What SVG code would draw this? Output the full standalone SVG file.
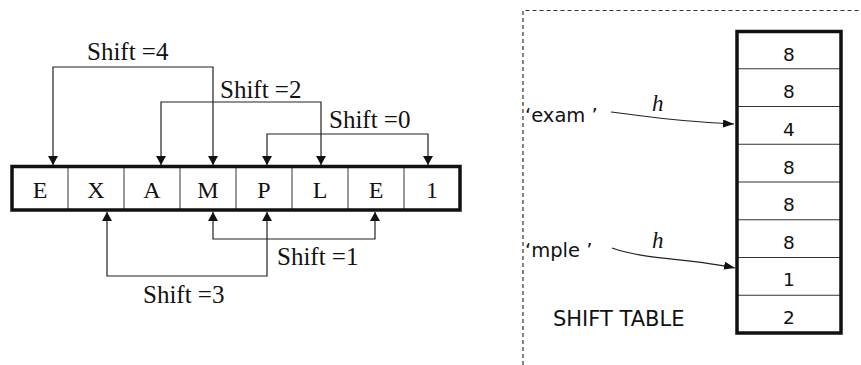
<svg xmlns="http://www.w3.org/2000/svg" width="861" height="365" viewBox="0 0 861 365">
  <style>
    .serif { font-family: "Liberation Serif", "Times New Roman", serif; fill: #111; }
    .sans { font-family: "DejaVu Sans", Verdana, sans-serif; fill: #111; }
    .cell { font-size: 24px; text-anchor: middle; }
    .shift { font-size: 25px; }
    .num { font-size: 18.5px; text-anchor: middle; }
    .frame { fill: none; stroke: #111; stroke-width: 3.5; }
    .div { stroke: #333; stroke-width: 1; }
    .conn { fill: none; stroke: #222; stroke-width: 1.2; }
    .hash { fill: none; stroke: #222; stroke-width: 1.2; }
    .dash { fill: none; stroke: #333; stroke-width: 1.2; stroke-dasharray: 4 3; }
  </style>
  <defs>
    <marker id="tip" viewBox="0 0 9 10" refX="9" refY="5" markerWidth="9" markerHeight="10" markerUnits="userSpaceOnUse" orient="auto-start-reverse">
      <path d="M0,0 L9,5 L0,10 z" fill="#111"/>
    </marker>
    <marker id="tipSmall" viewBox="0 0 11 8" refX="11" refY="4" markerWidth="11" markerHeight="8" markerUnits="userSpaceOnUse" orient="auto">
      <path d="M0,0 L11,4 L0,8 z" fill="#111"/>
    </marker>
  </defs>

  <rect width="861" height="365" fill="#fff"/>

  <!-- pattern string EXAMPLE1 -->
  <g id="pattern">
    <g class="div">
      <line x1="68" y1="166" x2="68" y2="210"/>
      <line x1="124" y1="166" x2="124" y2="210"/>
      <line x1="180" y1="166" x2="180" y2="210"/>
      <line x1="236" y1="166" x2="236" y2="210"/>
      <line x1="292" y1="166" x2="292" y2="210"/>
      <line x1="348" y1="166" x2="348" y2="210"/>
      <line x1="404" y1="166" x2="404" y2="210"/>
    </g>
    <rect class="frame" x="12" y="166.5" width="448" height="43.5"/>
    <g class="serif cell">
      <text x="40" y="198">E</text>
      <text x="96" y="198">X</text>
      <text x="152" y="198">A</text>
      <text x="208" y="198">M</text>
      <text x="264" y="198">P</text>
      <text x="320" y="198">L</text>
      <text x="376" y="198">E</text>
      <text x="432" y="198">1</text>
    </g>
  </g>

  <!-- shift connectors between equal characters -->
  <g id="connectors">
    <path class="conn" d="M53,165 V67 H213 V165" marker-start="url(#tip)" marker-end="url(#tip)"/>
    <path class="conn" d="M161,165 V102 H321 V165" marker-start="url(#tip)" marker-end="url(#tip)"/>
    <path class="conn" d="M267,165 V134 H428 V165" marker-start="url(#tip)" marker-end="url(#tip)"/>
    <path class="conn" d="M213,212 V239 H375 V212" marker-start="url(#tip)" marker-end="url(#tip)"/>
    <path class="conn" d="M107,212 V276 H267 V212" marker-start="url(#tip)" marker-end="url(#tip)"/>
    <path class="hash" d="M611,112 C645,116 668,121 734,124" marker-end="url(#tipSmall)"/>
    <path class="hash" d="M612,248 C645,260 690,258 735,268" marker-end="url(#tipSmall)"/>
  </g>

  <g id="shift-labels" class="serif shift">
    <text x="87" y="60">Shift =4</text>
    <text x="220" y="98">Shift =2</text>
    <text x="329" y="128">Shift =0</text>
    <text x="277" y="265">Shift =1</text>
    <text x="143" y="303">Shift =3</text>
  </g>

  <!-- dashed panel border -->
  <path class="dash" d="M523,365 V10.5 H861"/>

  <g id="key-exam">
    <text class="sans" x="525" y="122" font-size="19.5">‘exam ’</text>
    <text class="serif" x="652" y="111" font-size="23" font-style="italic">h</text>
  </g>
  <g id="key-mple">
    <text class="sans" x="525" y="257" font-size="19.5">‘mple ’</text>
    <text class="serif" x="652" y="248" font-size="23" font-style="italic">h</text>
  </g>

  <!-- shift table -->
  <g id="shift-table">
    <g class="div">
      <line x1="737" y1="68.75" x2="841" y2="68.75"/>
      <line x1="737" y1="106.5" x2="841" y2="106.5"/>
      <line x1="737" y1="144.25" x2="841" y2="144.25"/>
      <line x1="737" y1="182" x2="841" y2="182"/>
      <line x1="737" y1="219.75" x2="841" y2="219.75"/>
      <line x1="737" y1="257.5" x2="841" y2="257.5"/>
      <line x1="737" y1="295.25" x2="841" y2="295.25"/>
    </g>
    <rect class="frame" x="737" y="31.5" width="104" height="301.5"/>
    <g class="sans num">
      <text x="789" y="61">8</text>
      <text x="789" y="98">8</text>
      <text x="789" y="136">4</text>
      <text x="789" y="174">8</text>
      <text x="789" y="211">8</text>
      <text x="789" y="249">8</text>
      <text x="789" y="286">1</text>
      <text x="789" y="324">2</text>
    </g>
    <text class="sans" x="553" y="326" font-size="21">SHIFT TABLE</text>
  </g>
</svg>
